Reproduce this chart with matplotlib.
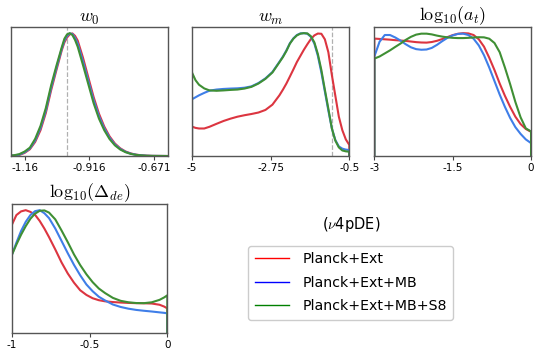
import matplotlib
matplotlib.use('Agg')
import matplotlib.pyplot as plt
from matplotlib.lines import Line2D
import numpy as np

plt.rcParams['mathtext.fontset'] = 'cm'
plt.rcParams['axes.unicode_minus'] = False
plt.rcParams['font.family'] = ['DejaVu Sans']

labels = ['Planck+Ext', 'Planck+Ext+MB', 'Planck+Ext+MB+S8']
curve_colors = ['#dc3540', '#3f7ee8', '#3f8f34']
legend_colors = ['red', 'blue', 'green']

# w0
w0_x = [-1.211, -1.20, -1.18, -1.16, -1.14, -1.12, -1.10, -1.08, -1.06, -1.04, -1.02, -1.01,
        -1.00, -0.99, -0.98, -0.97, -0.96, -0.94, -0.92, -0.90, -0.88, -0.86, -0.84, -0.82,
        -0.80, -0.78, -0.76, -0.74, -0.72, -0.70, -0.68, -0.62]
w0_red = [0.002, 0.003, 0.008, 0.025, 0.055, 0.115, 0.21, 0.35, 0.535, 0.70, 0.86, 0.925,
          0.965, 0.99, 0.998, 0.978, 0.94, 0.80, 0.64, 0.48, 0.345, 0.24, 0.16, 0.102,
          0.063, 0.037, 0.021, 0.011, 0.006, 0.003, 0.001, 0.0]
w0_blue = [0.003, 0.004, 0.011, 0.030, 0.061, 0.127, 0.228, 0.37, 0.555, 0.718, 0.873, 0.94,
           0.978, 0.998, 0.993, 0.962, 0.915, 0.77, 0.612, 0.455, 0.325, 0.225, 0.149, 0.094,
           0.058, 0.034, 0.019, 0.010, 0.005, 0.002, 0.001, 0.0]
w0_green = [0.004, 0.006, 0.015, 0.036, 0.068, 0.14, 0.245, 0.39, 0.575, 0.735, 0.885, 0.955,
            0.99, 1.0, 0.985, 0.945, 0.89, 0.74, 0.585, 0.43, 0.305, 0.21, 0.138, 0.087,
            0.053, 0.031, 0.017, 0.009, 0.005, 0.002, 0.001, 0.0]

# wm
wm_x = [-5.0, -4.9, -4.8, -4.65, -4.5, -4.3, -4.1, -3.9, -3.7, -3.5, -3.3, -3.1, -2.9, -2.7,
        -2.5, -2.4, -2.3, -2.2, -2.1, -2.0, -1.9, -1.8, -1.7, -1.6, -1.5, -1.4, -1.3, -1.2,
        -1.1, -1.0, -0.9, -0.8, -0.7, -0.6, -0.5]
wm_red = [0.239, 0.229, 0.224, 0.224, 0.238, 0.262, 0.285, 0.304, 0.32, 0.332, 0.342, 0.354,
          0.375, 0.418, 0.494, 0.54, 0.59, 0.647, 0.705, 0.765, 0.815, 0.865, 0.91, 0.952,
          0.982, 0.997, 0.995, 0.95, 0.845, 0.66, 0.49, 0.32, 0.21, 0.135, 0.09]
wm_blue = [0.462, 0.478, 0.494, 0.514, 0.532, 0.541, 0.546, 0.549, 0.551, 0.556, 0.567, 0.594,
           0.632, 0.684, 0.767, 0.81, 0.86, 0.918, 0.958, 0.985, 0.998, 1.0, 0.995, 0.97,
           0.915, 0.815, 0.68, 0.525, 0.37, 0.225, 0.13, 0.078, 0.06, 0.052, 0.049]
wm_green = [0.679, 0.617, 0.580, 0.550, 0.534, 0.531, 0.534, 0.538, 0.541, 0.549, 0.563, 0.590,
            0.628, 0.68, 0.763, 0.805, 0.855, 0.915, 0.955, 0.982, 0.996, 1.0, 0.998, 0.975,
            0.925, 0.83, 0.70, 0.54, 0.385, 0.225, 0.125, 0.07, 0.045, 0.038, 0.035]

# log10(a_t)
at_x = [-3.0, -2.9, -2.8, -2.7, -2.6, -2.5, -2.4, -2.3, -2.2, -2.1, -2.0, -1.9, -1.8, -1.7,
        -1.6, -1.5, -1.4, -1.3, -1.2, -1.1, -1.0, -0.9, -0.8, -0.7, -0.6, -0.5, -0.4,
        -0.3, -0.2, -0.1, 0.0]
at_red = [0.956, 0.953, 0.950, 0.947, 0.943, 0.940, 0.937, 0.932, 0.927, 0.924, 0.923, 0.928, 0.938,
          0.952, 0.968, 0.984, 0.995, 1.0, 0.998, 0.985, 0.95, 0.89, 0.80, 0.70, 0.59, 0.49, 0.40,
          0.32, 0.26, 0.22, 0.197]
at_blue = [0.81, 0.93, 0.985, 0.985, 0.965, 0.94, 0.91, 0.885, 0.87, 0.865, 0.867, 0.88, 0.905,
           0.935, 0.962, 0.982, 0.994, 0.996, 0.985, 0.955, 0.90, 0.82, 0.72, 0.61, 0.50, 0.40, 0.31,
           0.235, 0.18, 0.135, 0.105]
at_green = [0.793, 0.81, 0.835, 0.86, 0.888, 0.915, 0.945, 0.97, 0.988, 0.996, 0.996, 0.99, 0.98,
            0.972, 0.966, 0.962, 0.96, 0.96, 0.962, 0.965, 0.967, 0.966, 0.955, 0.92, 0.845, 0.72,
            0.585, 0.44, 0.315, 0.225, 0.20]

# log10(Delta_de)
dde_x = [-1.0, -0.97, -0.94, -0.91, -0.88, -0.85, -0.82, -0.79, -0.76, -0.72, -0.68, -0.64,
         -0.60, -0.56, -0.52, -0.48, -0.44, -0.40, -0.35, -0.30, -0.25, -0.20, -0.15, -0.10,
         -0.05, -0.02, 0.0]
dde_red = [0.878, 0.96, 0.99, 1.0, 0.986, 0.962, 0.912, 0.85, 0.78, 0.68, 0.575, 0.485, 0.41,
           0.348, 0.31, 0.283, 0.267, 0.258, 0.252, 0.248, 0.245, 0.243, 0.242, 0.24, 0.23, 0.215, 0.20]
dde_blue = [0.633, 0.735, 0.83, 0.905, 0.96, 0.992, 1.0, 0.975, 0.935, 0.85, 0.75, 0.65, 0.555,
            0.47, 0.395, 0.34, 0.295, 0.265, 0.232, 0.212, 0.198, 0.188, 0.181, 0.175, 0.168, 0.164, 0.16]
dde_green = [0.633, 0.72, 0.80, 0.87, 0.93, 0.972, 0.995, 0.998, 0.98, 0.925, 0.835, 0.74, 0.64,
             0.553, 0.478, 0.414, 0.362, 0.325, 0.286, 0.262, 0.25, 0.244, 0.243, 0.25, 0.27, 0.29, 0.307]

panels = [
    (r'$w_0$', w0_x, [w0_red, w0_blue, w0_green], (-1.211, -0.620), [-1.16, -0.916, -0.671], -1.0),
    (r'$w_m$', wm_x, [wm_red, wm_blue, wm_green], (-5, -0.5), [-5, -2.75, -0.5], -1.0),
    (r'$\mathrm{log}_{10}(a_t)$', at_x, [at_red, at_blue, at_green], (-3, 0), [-3, -1.5, 0], None),
    (r'$\mathrm{log}_{10}(\Delta_{de})$', dde_x, [dde_red, dde_blue, dde_green], (-1, 0), [-1, -0.5, 0], None),
]
tick_text = [['-1.16', '-0.916', '-0.671'], ['-5', '-2.75', '-0.5'],
             ['-3', '-1.5', '0'], ['-1', '-0.5', '0']]

fig = plt.figure(figsize=(5.4, 3.57), dpi=100)
rects = [[0.0204, 0.5630, 0.2907, 0.3613],
         [0.3556, 0.5630, 0.2913, 0.3613],
         [0.6932, 0.5630, 0.2902, 0.3613],
         [0.0217, 0.0672, 0.2882, 0.3613]]

for i, (title, x, ys, lim, ticks, ref) in enumerate(panels):
    ax = fig.add_axes(rects[i])
    if ref is not None:
        ax.axvline(ref, color='#b0b0b0', ls='--', lw=0.9, zorder=1)
    for y, c in zip(ys, curve_colors):
        # close each curve down to zero at the range edges
        xx = np.r_[x[0], x, x[-1]]
        yy = np.r_[0, y, 0]
        ax.plot(xx, yy, color=c, lw=1.5, zorder=2, solid_joinstyle='round')
    ax.set_xlim(lim)
    ax.set_ylim(0, 1.05)
    ax.set_yticks([])
    ax.set_xticks(ticks)
    ax.set_xticklabels(tick_text[i])
    ax.tick_params(axis='x', labelsize=7.5, length=3, width=0.8, color='#444444', pad=2)
    for s in ax.spines.values():
        s.set_color('#555555')
        s.set_linewidth(1.0)
    ax.set_title(title, fontsize=13, pad=3)

handles = [Line2D([], [], color=c, lw=1.0) for c in legend_colors]
fig.legend(handles, labels, loc='upper left', bbox_to_anchor=(248.3 / 540, 1 - 245.7 / 357),
           borderaxespad=0, fontsize=10.2, handlelength=2.4, handletextpad=0.95,
           labelspacing=0.68, borderpad=0.45, frameon=True, fancybox=True,
           edgecolor='#cccccc', framealpha=1)
fig.text(351 / 540, 1 - 225 / 357, r'($\nu$4pDE)', ha='center', va='center', fontsize=10.5)

fig.savefig('out.png', dpi=100)
